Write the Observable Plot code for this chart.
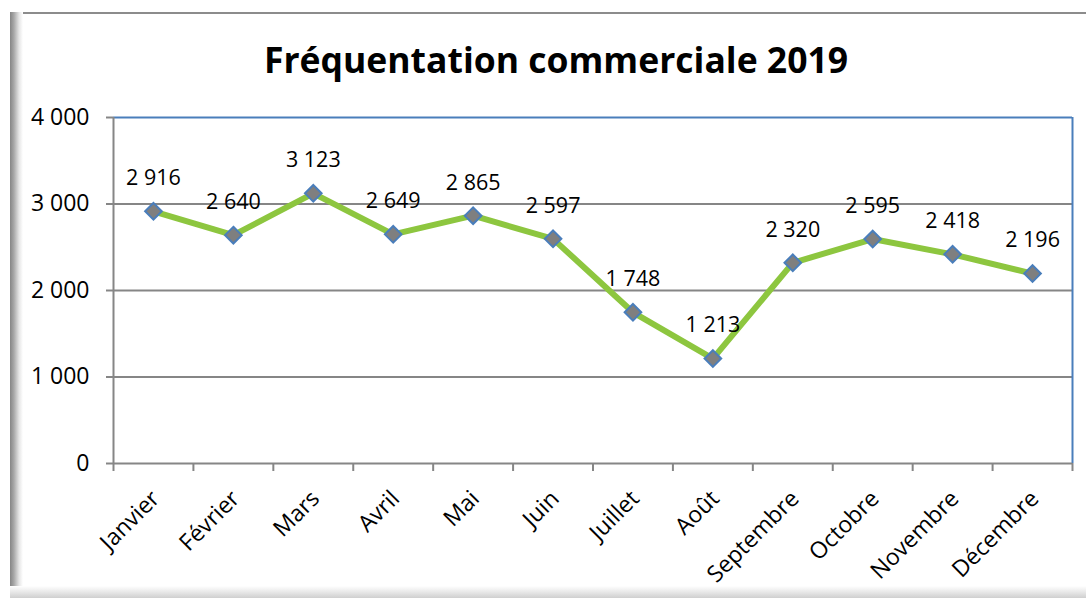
<!DOCTYPE html>
<html><head><meta charset="utf-8">
<script src="https://cdn.jsdelivr.net/npm/d3@7"></script>
<script src="https://cdn.jsdelivr.net/npm/@observablehq/plot@0.6"></script>
<style>
body{margin:0;background:#fff;}
#wrap{position:relative;width:1086px;height:598px;overflow:hidden;font-family:"Open Sans",sans-serif;background:#fff;}
#frameTop{position:absolute;left:10px;top:12px;width:1100px;height:2px;background:#8c8c8c;}
#frameLeft{position:absolute;left:10px;top:12px;width:13px;height:586px;background:linear-gradient(to right,#858585 0%,#a8a8a8 30%,#e6e6e6 70%,#fff 100%);}
#frameBottom{position:absolute;left:10px;top:586px;width:1100px;height:12px;background:linear-gradient(to bottom,#fff 0%,#e8e8e8 50%,#cfcfcf 100%);}
#title{position:absolute;left:0;width:1112px;text-align:center;top:37px;font-size:35.5px;font-weight:bold;line-height:44px;color:#000;white-space:nowrap;}
#chart{position:absolute;left:0;top:0;}
</style>
</head><body>
<div id="wrap">
<div id="frameTop"></div>
<div id="frameLeft"></div>
<div id="frameBottom"></div>
<div id="title">Fréquentation commerciale 2019</div>
<div id="chart"></div>
</div>
<script>
const months = ["Janvier","Février","Mars","Avril","Mai","Juin","Juillet","Août","Septembre","Octobre","Novembre","Décembre"];
const visits = [2916,2640,3123,2649,2865,2597,1748,1213,2320,2595,2418,2196];
const yTicks = [0,1000,2000,3000,4000];

const data = months.map((m,i)=>({i, month:m, value:visits[i]}));
const bounds = d3.range(months.length+1).map(k=>k-0.5);
const fmt = v => d3.format(",")(v).replace(/,/g," ");
const grey = "#868686", blue = "#4a7ebb";

const chart = Plot.plot({
  width:1086, height:598,
  marginLeft:113, marginRight:14, marginTop:117, marginBottom:135,
  style:{background:"transparent", fontFamily:"'Open Sans', sans-serif", color:"#000"},
  x:{type:"linear", domain:[-0.5, months.length-0.5], axis:null},
  y:{domain:[0,4000], axis:null},
  marks:[
    Plot.ruleY(yTicks.filter(v=>v>0 && v<4000), {stroke:grey, strokeWidth:2}),
    Plot.ruleY([4000], {stroke:blue, strokeWidth:2}),
    Plot.ruleX([months.length-0.5], {y1:0, y2:4000, stroke:blue, strokeWidth:2}),
    Plot.ruleY([0], {stroke:grey, strokeWidth:2}),
    Plot.ruleX([-0.5], {y1:0, y2:4000, stroke:grey, strokeWidth:2}),
    Plot.axisY({ticks:yTicks, tickSize:7, tickPadding:17, tickFormat:fmt, fontSize:23, stroke:grey, strokeWidth:2, fill:"#000", label:null}),
    Plot.axisX({ticks:bounds, tickSize:8, tickFormat:()=>"", stroke:grey, strokeWidth:2, label:null}),
    Plot.text(data, {x:"i", frameAnchor:"bottom", text:"month", rotate:-45, textAnchor:"end", lineAnchor:"top", dx:-4, dy:25, fontSize:23, fill:"#000"}),
    Plot.line(data, {x:"i", y:"value", stroke:"#8dc63f", strokeWidth:6, strokeLinejoin:"round"}),
    Plot.dot(data, {x:"i", y:"value", symbol:"diamond2", r:7.5, fill:"#7f7f7f", stroke:blue, strokeWidth:2}),
    Plot.text(data, {x:"i", y:"value", text:d=>fmt(d.value), dy:-33, fontSize:21.5, fill:"#000"})
  ]
});
document.getElementById("chart").appendChild(chart);
</script>
</body></html>
